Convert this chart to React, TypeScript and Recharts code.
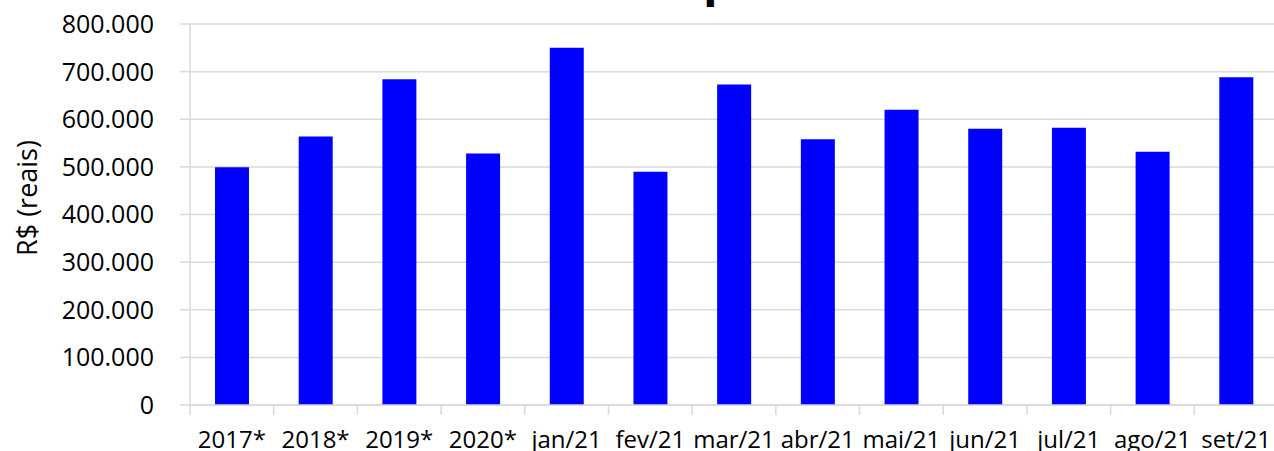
import { BarChart, Bar, XAxis, YAxis, CartesianGrid } from "recharts";

const CATEGORIES = [
  "2017*", "2018*", "2019*", "2020*", "jan/21", "fev/21", "mar/21",
  "abr/21", "mai/21", "jun/21", "jul/21", "ago/21", "set/21",
];
const VALUES = [
  499000, 564000, 684000, 528000, 750000, 490000, 673000,
  558000, 620000, 580000, 582000, 532000, 688000,
];
const Y_TICKS = [0, 100000, 200000, 300000, 400000, 500000, 600000, 700000, 800000];

const data = CATEGORIES.map((name, i) => ({ name, value: VALUES[i] }));

const FONT = "'Open Sans', sans-serif";
const GRID = "#d9d9d9";
const AXIS_LEFT = 190;
const CHART_W = 1278;
const BAND = (CHART_W - AXIS_LEFT) / CATEGORIES.length;

function formatBR(v: number) {
  return String(v).replace(/\B(?=(\d{3})+(?!\d))/g, ".");
}

function XTick(props: any) {
  const { x, y, payload } = props;
  const left = x - BAND / 2;
  return (
    <g>
      <line x1={left} y1={y - 8} x2={left} y2={y + 2} stroke={GRID} strokeWidth={1.5} />
      <text x={x} y={y + 35} textAnchor="middle" fill="#000" fontSize={24} fontFamily={FONT}>
        {payload.value}
      </text>
    </g>
  );
}

export default function App() {
  return (
    <div style={{ position: "absolute", left: 0, top: 0, width: 1274, height: 451, overflow: "hidden", background: "#fff" }}>
      <BarChart
        width={CHART_W}
        height={451}
        data={data}
        margin={{ top: 24, right: 0, left: 0, bottom: 0 }}
        barSize={34}
      >
        <CartesianGrid vertical={false} stroke={GRID} strokeWidth={1.5} />
        <XAxis
          dataKey="name"
          height={46}
          interval={0}
          tickLine={false}
          tick={<XTick />}
          axisLine={{ stroke: GRID, strokeWidth: 1.5 }}
        />
        <YAxis
          width={AXIS_LEFT}
          domain={[0, 800000]}
          ticks={Y_TICKS}
          interval={0}
          tickFormatter={formatBR}
          tickSize={10}
          tickMargin={26}
          tickLine={{ stroke: GRID, strokeWidth: 1.5 }}
          axisLine={{ stroke: GRID, strokeWidth: 1.5 }}
          tick={{ fill: "#000", fontSize: 25, fontFamily: FONT }}
        />
        <Bar dataKey="value" fill="#0000ff" isAnimationActive={false} />
      </BarChart>
      <svg width={1274} height={451} style={{ position: "absolute", left: 0, top: 0, pointerEvents: "none" }}>
        <text x={703} y={-5} fontSize={48} fontWeight="bold" fontFamily={FONT} fill="#000">
          p
        </text>
        <text
          x={26}
          y={198}
          transform="rotate(-90 26 198)"
          textAnchor="middle"
          dominantBaseline="central"
          fontSize={27}
          fontFamily={FONT}
          fill="#000"
        >
          R$ (reais)
        </text>
      </svg>
    </div>
  );
}
